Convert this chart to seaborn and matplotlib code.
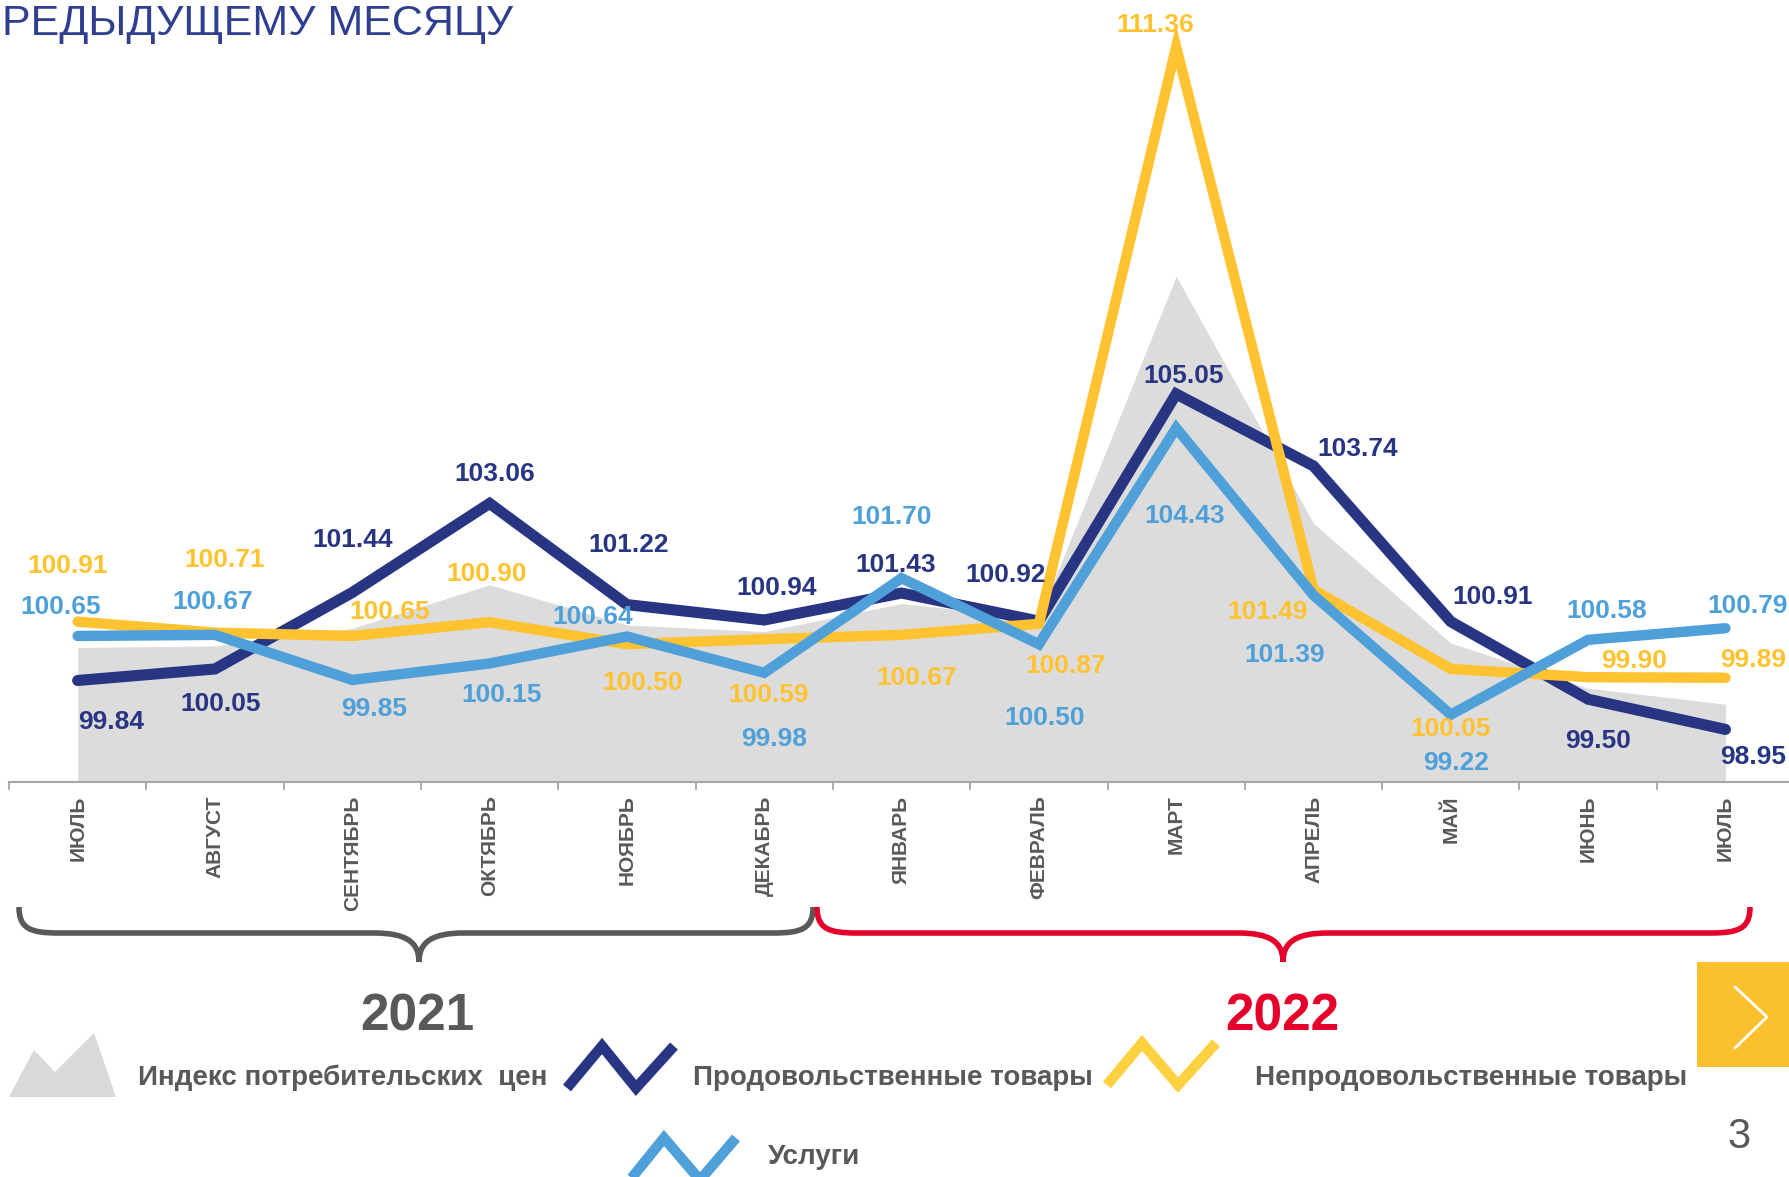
import numpy as np
import matplotlib
matplotlib.use('Agg')
import matplotlib.pyplot as plt
import seaborn as sns
from matplotlib.path import Path
from matplotlib.patches import PathPatch, Polygon, Rectangle
from matplotlib.lines import Line2D

# --- data ---
months = ['ИЮЛЬ', 'АВГУСТ', 'СЕНТЯБРЬ', 'ОКТЯБРЬ', 'НОЯБРЬ', 'ДЕКАБРЬ', 'ЯНВАРЬ',
          'ФЕВРАЛЬ', 'МАРТ', 'АПРЕЛЬ', 'МАЙ', 'ИЮНЬ', 'ИЮЛЬ']
cpi = [100.44, 100.47, 100.79, 101.58, 100.85, 100.73, 101.24, 100.97, 107.19,
       102.70, 100.52, 99.70, 99.41]
food = [99.84, 100.05, 101.44, 103.06, 101.22, 100.94, 101.43, 100.92, 105.05,
        103.74, 100.91, 99.50, 98.95]
nonfood = [100.91, 100.71, 100.65, 100.90, 100.50, 100.59, 100.67, 100.87, 111.36,
           101.49, 100.05, 99.90, 99.89]
services = [100.65, 100.67, 99.85, 100.15, 100.64, 99.98, 101.70, 100.50, 104.43,
            101.39, 99.22, 100.58, 100.79]
years = ['2021', '2022']
legend_names = ['Индекс потребительских  цен', 'Продовольственные товары',
                'Непродовольственные товары', 'Услуги']
title = 'РЕДЫДУЩЕМУ МЕСЯЦУ'

NAVY = '#283583'
YELLOW = '#FFC231'
LBLUE = '#4FA0D8'
AREA = '#DCDCDC'
DGREY = '#595959'
RED = '#E4002B'

sns.set_theme(style='white')
plt.rcParams['font.family'] = ['Liberation Sans', 'DejaVu Sans']

W, H = 1790, 1177
fig = plt.figure(figsize=(W / 100, H / 100), dpi=100)
ax = fig.add_axes([9 / W, 395.3 / H, 1781 / W, 781.7 / H])

x = np.arange(len(months))
ax.fill_between(x, cpi, 98, color=AREA, lw=0, zorder=1)
sns.lineplot(x=x, y=food, color=NAVY, lw=8, ax=ax, zorder=3,
             solid_capstyle='round', solid_joinstyle='miter')
sns.lineplot(x=x, y=nonfood, color=YELLOW, lw=7.5, ax=ax, zorder=4,
             solid_capstyle='round', solid_joinstyle='miter')
sns.lineplot(x=x, y=services, color=LBLUE, lw=7.5, ax=ax, zorder=5,
             solid_capstyle='round', solid_joinstyle='miter')

ax.set_xlim(-0.5, 12.47)
ax.set_ylim(98, 98 + 781.7 / 55)
for s in ['top', 'right', 'left']:
    ax.spines[s].set_visible(False)
ax.spines['bottom'].set_color('#A6A6A6')
ax.spines['bottom'].set_linewidth(1.5)
ax.set_yticks([])
ax.set_xticks(x)
ax.set_xticklabels(months, rotation=90, fontsize=15, fontweight='bold',
                   color=DGREY, va='top', ha='center')
ax.set_xticks(np.arange(-0.5, 12.5, 1), minor=True)
ax.tick_params(axis='x', which='major', length=0, pad=10)
ax.tick_params(axis='x', which='minor', length=6, width=1.3, color='#A6A6A6',
               direction='out', bottom=True)
ax.set_xlabel('')
ax.set_ylabel('')

# value labels (offsets in points)
food_off = [(24, -30), (4, -25), (0, 38), (4, 21), (1, 43), (9, 23), (-4, 20),
            (-24, 33), (5, 13), (32, 12), (30, 18), (7, -30), (20, -20)]
nonfood_off = [(-7, 40), (7, 52), (27, 17), (-2, 35), (11, -28), (3, -40), (11, -31),
               (19, -30), (-15, 16), (-33, -16), (0, -43), (33, 12), (20, 13)]
services_off = [(-12, 21), (-2, 24), (16, -21), (9, -23), (-25, 14), (7, -48), (-7, 44),
                (4, -53), (6, -63), (-21, -43), (4, -35), (13, 21), (16, 16)]
for vals, offs, col in [(food, food_off, NAVY), (nonfood, nonfood_off, YELLOW),
                        (services, services_off, LBLUE)]:
    for i, (v, o) in enumerate(zip(vals, offs)):
        ax.annotate(f'{v:.2f}', (i, v), xytext=o, textcoords='offset points',
                    ha='center', va='center', fontsize=19, fontweight='bold',
                    color=col, zorder=6, annotation_clip=False)


def fp(px, py):
    return (px / W, 1 - py / H)


def brace(x0, x1, xm, color):
    ytop, ybar, ytip = 907, 933, 962
    r, rm = 40, 45
    pts = [(x0, ytop), (x0, ytop + 0.85 * (ybar - ytop)), (x0 + 0.3 * r, ybar), (x0 + r, ybar),
           (xm - rm, ybar),
           (xm - 0.3 * rm, ybar), (xm, ybar + 0.3 * (ytip - ybar)), (xm, ytip),
           (xm, ybar + 0.3 * (ytip - ybar)), (xm + 0.3 * rm, ybar), (xm + rm, ybar),
           (x1 - r, ybar),
           (x1 - 0.3 * r, ybar), (x1, ytop + 0.85 * (ybar - ytop)), (x1, ytop)]
    codes = [Path.MOVETO, Path.CURVE4, Path.CURVE4, Path.CURVE4, Path.LINETO,
             Path.CURVE4, Path.CURVE4, Path.CURVE4, Path.CURVE4, Path.CURVE4, Path.CURVE4,
             Path.LINETO, Path.CURVE4, Path.CURVE4, Path.CURVE4]
    path = Path([fp(*p) for p in pts], codes)
    fig.add_artist(PathPatch(path, fill=False, edgecolor=color, lw=4,
                             transform=fig.transFigure))


brace(19, 813, 419, DGREY)
brace(817, 1750, 1283, RED)
fig.text(*fp(417, 1017), years[0], fontsize=37, fontweight='bold', color=DGREY,
         ha='center', va='center')
fig.text(*fp(1282, 1017), years[1], fontsize=37, fontweight='bold', color=RED,
         ha='center', va='center')

# legend
fig.add_artist(Polygon([fp(9, 1097), fp(34, 1050), fp(55, 1072), fp(94, 1033), fp(116, 1097)],
                       closed=True, facecolor='#D9D9D9', edgecolor='none',
                       transform=fig.transFigure))
for pts, col in [([(567, 1088), (602, 1046), (636, 1088), (674, 1046)], NAVY),
                 ([(1107, 1085), (1142, 1043), (1178, 1085), (1216, 1043)], '#FFD040'),
                 ([(630, 1180), (664, 1138), (700, 1180), (736, 1138)], LBLUE)]:
    xs, ys = zip(*[fp(*p) for p in pts])
    fig.add_artist(Line2D(xs, ys, color=col, lw=7.5, solid_joinstyle='miter',
                          solid_capstyle='butt', transform=fig.transFigure))
for (lx, ly), name in zip([(138, 1078), (693, 1078), (1255, 1078), (768, 1157)], legend_names):
    fig.text(*fp(lx, ly), name, fontsize=20, fontweight='bold', color=DGREY,
             ha='left', va='center')

# title, button, page number
fig.text(*fp(2, 35), title, fontsize=31, color='#2F3E8F', ha='left', va='baseline')
fig.add_artist(Rectangle(fp(1697, 1067), 93 / W, 105 / H, facecolor='#FBC02D',
                         edgecolor='none', transform=fig.transFigure))
cx, cy = zip(*[fp(1735, 987), fp(1767, 1017), fp(1735, 1048)])
fig.add_artist(Line2D(cx, cy, color='white', lw=2, transform=fig.transFigure))
fig.text(*fp(1739, 1137), '3', fontsize=30, color=DGREY, ha='center', va='center')

fig.savefig('out.png', dpi=100)
